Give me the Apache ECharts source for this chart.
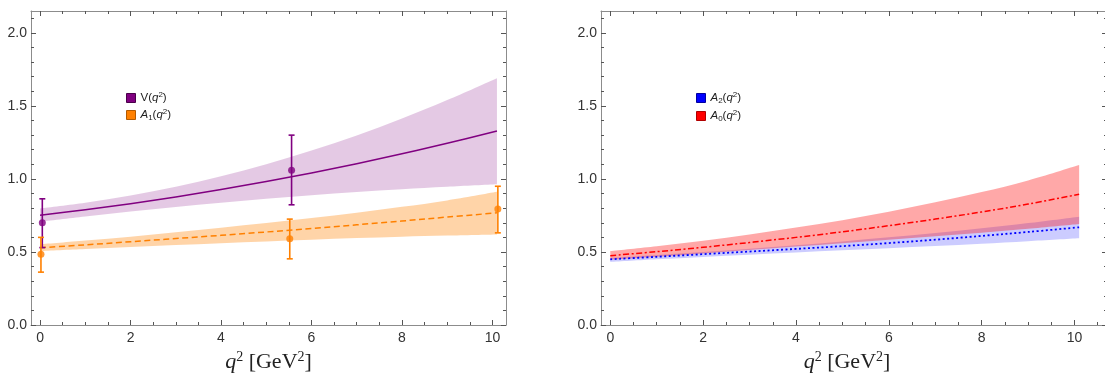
<!DOCTYPE html>
<html><head><meta charset="utf-8">
<script src="https://cdn.jsdelivr.net/npm/echarts@6/dist/echarts.min.js"></script>
<style>html,body{margin:0;padding:0;background:#fff}#c{width:1105px;height:374px}</style>
</head><body><div id="c"></div>
<script>
// ---- data ----
const qGrid = [0, 1, 2, 3, 4, 5, 6, 7, 8, 9, 10.1];

const vCentral = [0.752, 0.789, 0.831, 0.877, 0.927, 0.982, 1.041, 1.104, 1.172, 1.244, 1.329];
const vUpper   = [0.798, 0.837, 0.887, 0.947, 1.019, 1.101, 1.194, 1.297, 1.414, 1.540, 1.690];
const vLower   = [0.707, 0.743, 0.777, 0.808, 0.837, 0.864, 0.889, 0.911, 0.930, 0.947, 0.964];

const a1Central = [0.529, 0.549, 0.570, 0.592, 0.614, 0.637, 0.661, 0.686, 0.712, 0.739, 0.768];
const a1Upper   = [0.552, 0.578, 0.605, 0.635, 0.666, 0.698, 0.732, 0.769, 0.809, 0.853, 0.912];
const a1Lower   = [0.506, 0.520, 0.534, 0.547, 0.560, 0.572, 0.584, 0.595, 0.604, 0.612, 0.620];

const a0Central = [0.475, 0.502, 0.532, 0.565, 0.600, 0.638, 0.680, 0.725, 0.774, 0.828, 0.895];
const a0Upper   = [0.507, 0.540, 0.577, 0.620, 0.667, 0.718, 0.776, 0.840, 0.910, 0.990, 1.096];
const a0Lower   = [0.447, 0.467, 0.490, 0.513, 0.537, 0.560, 0.583, 0.607, 0.632, 0.659, 0.692];

const a2Central = [0.450, 0.467, 0.485, 0.503, 0.521, 0.540, 0.561, 0.584, 0.610, 0.637, 0.669];
const a2Upper   = [0.460, 0.480, 0.500, 0.522, 0.546, 0.572, 0.600, 0.630, 0.662, 0.698, 0.742];
const a2Lower   = [0.432, 0.450, 0.466, 0.481, 0.496, 0.511, 0.526, 0.541, 0.557, 0.574, 0.594];

// lattice points with error bars
const vPtsX   = [0.05, 5.56];
const vPtsY   = [0.70, 1.06];
const vPtsLo  = [0.53, 0.823];
const vPtsHi  = [0.864, 1.30];

const a1PtsX  = [0.02, 5.52, 10.12];
const a1PtsY  = [0.485, 0.59, 0.795];
const a1PtsLo = [0.362, 0.453, 0.631];
const a1PtsHi = [0.60, 0.725, 0.95];

// ticks
const xMajorTicks = [0, 2, 4, 6, 8, 10];
const xMinorTicksL = [0.5, 1, 1.5, 2.5, 3, 3.5, 4.5, 5, 5.5, 6.5, 7, 7.5, 8.5, 9, 9.5];
const xMinorTicksR = [0.5, 1, 1.5, 2.5, 3, 3.5, 4.5, 5, 5.5, 6.5, 7, 7.5, 8.5, 9, 9.5, 10.5];
const yMajorTicks = [0, 0.5, 1.0, 1.5, 2.0];
const yMinorTicks = [0.1, 0.2, 0.3, 0.4, 0.6, 0.7, 0.8, 0.9, 1.1, 1.2, 1.3, 1.4, 1.6, 1.7, 1.8, 1.9, 2.1];

// ---- chart ----
const chart = echarts.init(document.getElementById('c'), null, {renderer: 'canvas'});

const FRAME = '#8c8c8c', TICK = '#555', LABEL = '#333';
const SANS = 'Liberation Sans, Arial, sans-serif';
const SERIF = 'Liberation Serif, Times New Roman, serif';

const axisNameRich = {
  q: {fontFamily: SERIF, fontStyle: 'italic', fontSize: 22, color: '#222', lineHeight: 25},
  t: {fontFamily: SERIF, fontSize: 22, color: '#222', lineHeight: 25},
  sup: {fontFamily: SERIF, fontSize: 14, color: '#222', lineHeight: 14, verticalAlign: 'top'}
};

function xAxesFor(g, xmin, xmax, minor, namePad) {
  const base = {type: 'value', gridIndex: g, min: xmin, max: xmax, splitLine: {show: false}};
  return [
    Object.assign({}, base, {position: 'bottom',
      axisLine: {show: true, onZero: false, lineStyle: {color: FRAME, width: 1}},
      axisTick: {show: true, inside: true, length: 5, customValues: xMajorTicks, lineStyle: {color: TICK}},
      axisLabel: {show: true, customValues: xMajorTicks, margin: 6, fontSize: 14, fontFamily: SANS, color: LABEL},
      name: '{q|q}{sup|2}{t| [GeV}{sup|2}{t|]}', nameLocation: 'middle', nameGap: 24,
      nameTextStyle: {rich: axisNameRich, padding: namePad}
    }),
    Object.assign({}, base, {position: 'bottom',
      axisLine: {show: false, onZero: false},
      axisTick: {show: true, inside: true, length: 3, customValues: minor, lineStyle: {color: TICK}},
      axisLabel: {show: false}
    }),
    Object.assign({}, base, {position: 'top',
      axisLine: {show: true, onZero: false, lineStyle: {color: FRAME, width: 1}},
      axisTick: {show: true, inside: true, length: 5, customValues: xMajorTicks, lineStyle: {color: TICK}},
      axisLabel: {show: false}
    }),
    Object.assign({}, base, {position: 'top',
      axisLine: {show: false, onZero: false},
      axisTick: {show: true, inside: true, length: 3, customValues: minor, lineStyle: {color: TICK}},
      axisLabel: {show: false}
    })
  ];
}
function yAxesFor(g) {
  const base = {type: 'value', gridIndex: g, min: 0, max: 2.15, splitLine: {show: false}};
  return [
    Object.assign({}, base, {position: 'left',
      axisLine: {show: true, onZero: false, lineStyle: {color: FRAME, width: 1}},
      axisTick: {show: true, inside: true, length: 5, customValues: yMajorTicks, lineStyle: {color: TICK}},
      axisLabel: {show: true, customValues: yMajorTicks, margin: 4, fontSize: 14, fontFamily: SANS, color: LABEL,
        formatter: v => Number(v).toFixed(1)}
    }),
    Object.assign({}, base, {position: 'left',
      axisLine: {show: false, onZero: false},
      axisTick: {show: true, inside: true, length: 3, customValues: yMinorTicks, lineStyle: {color: TICK}},
      axisLabel: {show: false}
    }),
    Object.assign({}, base, {position: 'right',
      axisLine: {show: true, onZero: false, lineStyle: {color: FRAME, width: 1}},
      axisTick: {show: true, inside: true, length: 5, customValues: yMajorTicks, lineStyle: {color: TICK}},
      axisLabel: {show: false}
    }),
    Object.assign({}, base, {position: 'right',
      axisLine: {show: false, onZero: false},
      axisTick: {show: true, inside: true, length: 3, customValues: yMinorTicks, lineStyle: {color: TICK}},
      axisLabel: {show: false}
    })
  ];
}

// Catmull-Rom spline through pixel points -> SVG path segments
function splinePath(pts, moveFirst) {
  let d = (moveFirst ? 'M' : 'L') + pts[0][0] + ' ' + pts[0][1];
  for (let i = 0; i < pts.length - 1; i++) {
    const p0 = pts[Math.max(0, i - 1)], p1 = pts[i], p2 = pts[i + 1], p3 = pts[Math.min(pts.length - 1, i + 2)];
    const c1x = p1[0] + (p2[0] - p0[0]) / 6, c1y = p1[1] + (p2[1] - p0[1]) / 6;
    const c2x = p2[0] - (p3[0] - p1[0]) / 6, c2y = p2[1] - (p3[1] - p1[1]) / 6;
    d += ' C' + c1x + ' ' + c1y + ' ' + c2x + ' ' + c2y + ' ' + p2[0] + ' ' + p2[1];
  }
  return d;
}

function bandSeries(xi, yi, xs, lo, hi, fill, z) {
  return {
    type: 'custom', xAxisIndex: xi, yAxisIndex: yi, silent: true, z: z,
    data: [[xs[0], lo[0]]],
    renderItem: function (params, api) {
      const up = xs.map((x, i) => api.coord([x, hi[i]]));
      const dn = xs.map((x, i) => api.coord([x, lo[i]])).reverse();
      const d = splinePath(up, true) + ' ' + splinePath(dn, false) + ' Z';
      return {type: 'path', shape: {pathData: d}, style: {fill: fill}};
    }
  };
}
function lineSeries(name, xi, yi, xs, ys, color, type, width) {
  return {
    name: name, type: 'custom', xAxisIndex: xi, yAxisIndex: yi, z: 5, silent: true,
    data: [[xs[0], ys[0]]],
    renderItem: function (params, api) {
      const pts = xs.map((x, i) => api.coord([x, ys[i]]));
      return {type: 'path', shape: {pathData: splinePath(pts, true)},
        style: {fill: null, stroke: color, lineWidth: width, lineDash: type}};
    }
  };
}
function errorSeries(xi, yi, xs, lo, hi, color) {
  return {
    type: 'custom', xAxisIndex: xi, yAxisIndex: yi, z: 6, silent: true,
    data: xs.map((x, i) => [x, lo[i], hi[i]]),
    encode: {x: 0, y: [1, 2]},
    renderItem: function (params, api) {
      const x = api.value(0);
      const p1 = api.coord([x, api.value(1)]);
      const p2 = api.coord([x, api.value(2)]);
      const w = 3, st = {stroke: color, lineWidth: 1.6};
      return {type: 'group', children: [
        {type: 'line', shape: {x1: p1[0], y1: p1[1], x2: p2[0], y2: p2[1]}, style: st},
        {type: 'line', shape: {x1: p1[0] - w, y1: p1[1], x2: p1[0] + w, y2: p1[1]}, style: st},
        {type: 'line', shape: {x1: p2[0] - w, y1: p2[1], x2: p2[0] + w, y2: p2[1]}, style: st}
      ]};
    }
  };
}
function pointSeries(xi, yi, xs, ys, color) {
  return {
    type: 'scatter', xAxisIndex: xi, yAxisIndex: yi, z: 7, silent: true,
    data: xs.map((x, i) => [x, ys[i]]), symbolSize: 7, itemStyle: {color: color}
  };
}

const legendRich = {
  n: {fontFamily: SANS, fontSize: 11.5, color: '#222', lineHeight: 14},
  i: {fontFamily: SANS, fontSize: 11.5, fontStyle: 'italic', color: '#222', lineHeight: 14},
  sup: {fontFamily: SANS, fontSize: 8, color: '#222', lineHeight: 8, verticalAlign: 'top'},
  sub: {fontFamily: SANS, fontSize: 8, color: '#222', lineHeight: 8, verticalAlign: 'bottom'}
};
const legendLabels = {
  'V': '{n|V(}{i|q}{sup|2}{n|)}',
  'A1': '{i|A}{sub|1}{n|(}{i|q}{sup|2}{n|)}',
  'A2': '{i|A}{sub|2}{n|(}{i|q}{sup|2}{n|)}',
  'A0': '{i|A}{sub|0}{n|(}{i|q}{sup|2}{n|)}'
};
function legendFor(left, items) {
  return {
    orient: 'vertical', left: left, top: 86, icon: 'rect', itemWidth: 9, itemHeight: 9, itemGap: 4,
    selectedMode: false,
    data: items.map(it => ({name: it[0], itemStyle: {color: it[1], borderColor: it[2], borderWidth: 1}})),
    formatter: name => legendLabels[name],
    textStyle: {rich: legendRich}
  };
}

const option = {
  animation: false,
  backgroundColor: '#fff',
  grid: [
    {left: 31, right: 599, top: 11, bottom: 49, outerBoundsMode: 'none', containLabel: false},
    {left: 601, right: -2, top: 11, bottom: 49, outerBoundsMode: 'none', containLabel: false}
  ],
  xAxis: [].concat(xAxesFor(0, -0.2, 10.3, xMinorTicksL, [0, 0, 0, 0]),
                   xAxesFor(1, -0.2, 10.7, xMinorTicksR, [0, 14, 0, 0])),
  yAxis: [].concat(yAxesFor(0), yAxesFor(1)),
  legend: [
    legendFor(121, [['V', '#800080', '#4a004a'], ['A1', '#ff8000', '#b35a00']]),
    legendFor(691, [['A2', '#0000ff', '#0000a0'], ['A0', '#ff0000', '#b00000']])
  ],
  series: [
    // left panel
    bandSeries(0, 0, qGrid, vLower, vUpper, 'rgba(128,0,128,0.21)', 1),
    bandSeries(0, 0, qGrid, a1Lower, a1Upper, 'rgba(255,128,0,0.34)', 1),
    lineSeries('V', 0, 0, qGrid, vCentral, '#800080', null, 1.5),
    lineSeries('A1', 0, 0, qGrid, a1Central, '#ff8000', [6, 3.5], 1.5),
    errorSeries(0, 0, vPtsX, vPtsLo, vPtsHi, '#800080'),
    errorSeries(0, 0, a1PtsX, a1PtsLo, a1PtsHi, '#ff8000'),
    pointSeries(0, 0, vPtsX, vPtsY, '#800080'),
    pointSeries(0, 0, a1PtsX, a1PtsY, '#ff8000'),
    // right panel
    bandSeries(4, 4, qGrid, a2Lower, a2Upper, 'rgba(0,0,255,0.2)', 1),
    bandSeries(4, 4, qGrid, a0Lower, a0Upper, 'rgba(255,0,0,0.34)', 2),
    lineSeries('A2', 4, 4, qGrid, a2Central, '#0000ff', [2, 2.5], 1.8),
    lineSeries('A0', 4, 4, qGrid, a0Central, '#ff0000', [6, 2.5, 2, 2.5], 1.5)
  ]
};
chart.setOption(option);
</script>
</body></html>
